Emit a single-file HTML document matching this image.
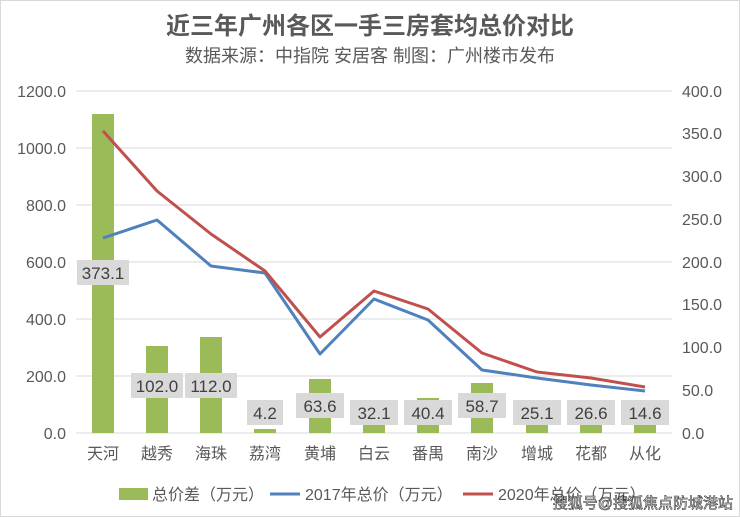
<!DOCTYPE html><html><head><meta charset="utf-8"><style>body{margin:0;background:#fff}svg{display:block;font-family:"Liberation Sans","Noto Sans CJK SC",sans-serif}</style></head><body>
<svg width="740" height="517" viewBox="0 0 740 517">
<rect x="0.5" y="0.5" width="739" height="516" fill="#fff" stroke="#d9d9d9"/>
<text x="370" y="34" text-anchor="middle" font-size="24" font-weight="bold" fill="#595959">近三年广州各区一手三房套均总价对比</text>
<text x="370" y="62" text-anchor="middle" font-size="18" fill="#595959">数据来源：中指院 安居客 制图：广州楼市发布</text>
<g stroke="#d9d9d9" stroke-width="1">
<line x1="76" y1="91" x2="672" y2="91"/><line x1="76" y1="148" x2="672" y2="148"/><line x1="76" y1="205" x2="672" y2="205"/><line x1="76" y1="262" x2="672" y2="262"/><line x1="76" y1="319" x2="672" y2="319"/><line x1="76" y1="376" x2="672" y2="376"/><line x1="76" y1="433" x2="672" y2="433"/></g>
<g font-size="16" fill="#595959" text-anchor="end">
<text x="66" y="97">1200.0</text><text x="66" y="154">1000.0</text><text x="66" y="211">800.0</text><text x="66" y="268">600.0</text><text x="66" y="325">400.0</text><text x="66" y="382">200.0</text><text x="66" y="439">0.0</text></g>
<g font-size="16" fill="#595959" text-anchor="start">
<text x="682" y="97">400.0</text><text x="682" y="139">350.0</text><text x="682" y="182">300.0</text><text x="682" y="225">250.0</text><text x="682" y="268">200.0</text><text x="682" y="310">150.0</text><text x="682" y="353">100.0</text><text x="682" y="396">50.0</text><text x="682" y="439">0.0</text></g>
<g fill="#9bbb59">
<rect x="92" y="114" width="22" height="319"/><rect x="146" y="346" width="22" height="87"/><rect x="200" y="337" width="22" height="96"/><rect x="254" y="429" width="22" height="4"/><rect x="309" y="379" width="22" height="54"/><rect x="363" y="406" width="22" height="27"/><rect x="417" y="398" width="22" height="35"/><rect x="471" y="383" width="22" height="50"/><rect x="526" y="412" width="22" height="21"/><rect x="580" y="410" width="22" height="23"/><rect x="634" y="421" width="22" height="12"/></g>
<polyline fill="none" stroke="#4f81bd" stroke-width="3" stroke-linejoin="round" points="103,238 157,220 211,266 265,273 320,354 374,299 428,320 482,370 537,378 591,385 645,391"/>
<polyline fill="none" stroke="#c0504d" stroke-width="3" stroke-linejoin="round" points="103,131 157,191 211,234 265,271 320,337 374,291 428,309 482,353 537,372 591,378 645,387"/>
<g fill="#d9d9d9">
<rect x="77" y="260" width="52" height="25"/><rect x="131" y="373" width="52" height="25"/><rect x="185" y="373" width="52" height="25"/><rect x="247" y="400" width="36" height="25"/><rect x="296" y="393" width="48" height="25"/><rect x="350" y="400" width="48" height="25"/><rect x="404" y="400" width="48" height="25"/><rect x="458" y="393" width="48" height="25"/><rect x="513" y="400" width="48" height="25"/><rect x="567" y="400" width="48" height="25"/><rect x="621" y="400" width="48" height="25"/></g>
<g font-size="17" fill="#404040" text-anchor="middle">
<text x="103" y="279">373.1</text><text x="157" y="392">102.0</text><text x="211" y="392">112.0</text><text x="265" y="419">4.2</text><text x="320" y="412">63.6</text><text x="374" y="419">32.1</text><text x="428" y="419">40.4</text><text x="482" y="412">58.7</text><text x="537" y="419">25.1</text><text x="591" y="419">26.6</text><text x="645" y="419">14.6</text></g>
<g font-size="16" fill="#595959" text-anchor="middle">
<text x="103" y="459">天河</text><text x="157" y="459">越秀</text><text x="211" y="459">海珠</text><text x="265" y="459">荔湾</text><text x="320" y="459">黄埔</text><text x="374" y="459">白云</text><text x="428" y="459">番禺</text><text x="482" y="459">南沙</text><text x="537" y="459">增城</text><text x="591" y="459">花都</text><text x="645" y="459">从化</text></g>
<rect x="119" y="488" width="29" height="12" fill="#9bbb59"/>
<text x="152" y="500" font-size="16" fill="#595959">总价差（万元）</text>
<line x1="270" y1="494" x2="300" y2="494" stroke="#4f81bd" stroke-width="3"/>
<text x="305" y="500" font-size="16" fill="#595959">2017年总价（万元）</text>
<line x1="463" y1="494" x2="493" y2="494" stroke="#c0504d" stroke-width="3"/>
<text x="498" y="500" font-size="16" fill="#595959">2020年总价（万元）</text>
<text x="733" y="508" text-anchor="end" font-size="15" fill="#fff" stroke="#333" stroke-width="0.6">搜狐号@搜狐焦点防城港站</text>
</svg></body></html>
